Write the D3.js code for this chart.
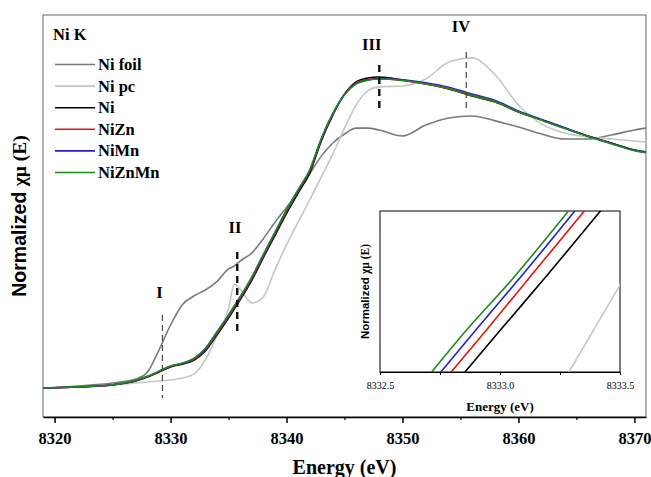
<!DOCTYPE html>
<html>
<head>
<meta charset="utf-8">
<script src="https://cdn.jsdelivr.net/npm/d3@7"></script>
<style>
  body { margin: 0; background: #fff; }
  text { font-family: "Liberation Serif", "Times New Roman", serif; font-weight: bold; }
</style>
</head>
<body>
<div class="chart"></div>
<script>
// energy grid (eV) shared by all main spectra
const energy = [8319, 8322, 8325, 8327, 8328, 8329, 8330, 8331, 8332, 8333, 8334, 8335, 8335.5, 8336, 8337, 8338, 8339, 8340,
  8341, 8342, 8343, 8344, 8345, 8346, 8347, 8348, 8350, 8352, 8354, 8356, 8358, 8360, 8362, 8364, 8366, 8368, 8370, 8371];

const niFoil = [-0.004, 0.004, 0.016, 0.032, 0.060, 0.149, 0.250, 0.331, 0.367, 0.391, 0.425, 0.476, 0.488, 0.508, 0.540, 0.598, 0.664, 0.724,
  0.786, 0.859, 0.931, 0.984, 1.020, 1.044, 1.044, 1.036, 1.012, 1.056, 1.085, 1.093, 1.073, 1.048, 1.020, 1.000, 1.000, 1.016, 1.036, 1.044];
const niPc = [-0.004, 0.000, 0.008, 0.016, 0.020, 0.024, 0.028, 0.036, 0.052, 0.109, 0.206, 0.315, 0.415, 0.395, 0.339, 0.363, 0.472, 0.573,
  0.665, 0.754, 0.847, 0.940, 1.044, 1.137, 1.194, 1.210, 1.214, 1.242, 1.310, 1.327, 1.258, 1.137, 1.060, 1.024, 1.008, 1.000, 0.992, 0.988];
const ni = [-0.004, 0.000, 0.008, 0.024, 0.040, 0.060, 0.081, 0.092, 0.108, 0.145, 0.210, 0.278, 0.315, 0.351, 0.430, 0.522, 0.610, 0.700,
  0.782, 0.863, 0.992, 1.097, 1.181, 1.230, 1.246, 1.250, 1.238, 1.222, 1.202, 1.173, 1.149, 1.109, 1.077, 1.044, 1.012, 0.984, 0.956, 0.948];
const niZn = [-0.004, 0.000, 0.008, 0.025, 0.041, 0.062, 0.083, 0.094, 0.111, 0.150, 0.216, 0.284, 0.321, 0.357, 0.436, 0.528, 0.617, 0.707,
  0.789, 0.870, 0.998, 1.101, 1.180, 1.226, 1.240, 1.244, 1.236, 1.222, 1.203, 1.175, 1.150, 1.110, 1.077, 1.043, 1.011, 0.983, 0.955, 0.947];
const niMn = [-0.004, 0.000, 0.009, 0.026, 0.042, 0.063, 0.084, 0.095, 0.113, 0.153, 0.220, 0.288, 0.325, 0.361, 0.440, 0.532, 0.621, 0.711,
  0.793, 0.873, 1.000, 1.102, 1.179, 1.224, 1.238, 1.243, 1.239, 1.227, 1.209, 1.181, 1.155, 1.113, 1.079, 1.045, 1.012, 0.983, 0.955, 0.947];
const niZnMn = [-0.004, 0.001, 0.009, 0.027, 0.043, 0.064, 0.085, 0.096, 0.115, 0.156, 0.223, 0.291, 0.328, 0.364, 0.443, 0.535, 0.624, 0.714,
  0.796, 0.876, 1.002, 1.103, 1.178, 1.222, 1.237, 1.242, 1.236, 1.223, 1.204, 1.176, 1.151, 1.110, 1.076, 1.042, 1.010, 0.981, 0.953, 0.945];

const seriesNames = ["Ni foil", "Ni pc", "Ni", "NiZn", "NiMn", "NiZnMn"];
const seriesColors = ["#7a7a7a", "#c6c6c6", "#000000", "#e3140f", "#2323c8", "#1d8a1d"];

// feature markers
const markNames = ["I", "II", "III", "IV"];
const markEnergy = [8329.3, 8335.75, 8348.0, 8355.5];
const markTop = [0.290, 0.544, 1.298, 1.351];
const markBottom = [-0.044, 0.218, 1.117, 1.117];
const markLabelE = [8329.05, 8335.55, 8347.35, 8355.05];
const markLabelV = [0.359, 0.621, 1.359, 1.431];

const xTicks = [8320, 8330, 8340, 8350, 8360, 8370];
const xMinor = [8325, 8335, 8345, 8355, 8365];

// inset (zoom on the edge)
const insetE = {
  "Ni pc": [8333.25, 8333.55],
  "Ni": [8332.82, 8333.00, 8333.20, 8333.45],
  "NiZn": [8332.76, 8332.94, 8333.14, 8333.39],
  "NiMn": [8332.72, 8332.90, 8333.10, 8333.35],
  "NiZnMn": [8332.68, 8332.85, 8333.05, 8333.32]
};
const insetV = {
  "Ni pc": [0.1162, 0.1467],
  "Ni": [0.1176, 0.1303, 0.1443, 0.1623],
  "NiZn": [0.1174, 0.1302, 0.1447, 0.1628],
  "NiMn": [0.1176, 0.1305, 0.1446, 0.1628],
  "NiZnMn": [0.1174, 0.1297, 0.1430, 0.1626]
};
const insetTicks = [8332.5, 8333.0, 8333.5];
const insetMinor = [8332.75, 8333.25];

const w = 651;
const h = 477;
const padL = 43, padR = 646, padT = 15, padB = 417;

const svg = d3.select(".chart").append("svg")
  .attr("width", w)
  .attr("height", h);

const xScale = d3.scaleLinear().domain([8319, 8371]).range([padL, padR]);
const yScale = d3.scaleLinear().domain([-0.121, 1.5]).range([padB, padT]);

svg.append("clipPath").attr("id", "mainClip")
  .append("rect").attr("x", padL).attr("y", padT).attr("width", padR - padL).attr("height", padB - padT);

// frame
svg.append("rect")
  .attr("x", padL).attr("y", padT)
  .attr("width", padR - padL).attr("height", padB - padT)
  .attr("fill", "none").attr("stroke", "#666").attr("stroke-width", 1);

const allSeries = [niFoil, niPc, ni, niZn, niMn, niZnMn];
const line = d3.line()
  .x((d, i) => xScale(energy[i]))
  .y((d) => yScale(d))
  .curve(d3.curveMonotoneX);

svg.append("g").attr("clip-path", "url(#mainClip)")
  .selectAll("path")
  .data(allSeries)
  .enter()
  .append("path")
  .attr("d", (d) => line(d))
  .attr("fill", "none")
  .attr("stroke", (d, i) => seriesColors[i])
  .attr("stroke-width", 1.6);

// x axis
const xAxis = d3.axisBottom(xScale).tickValues(xTicks).tickFormat(d3.format("d")).tickSize(6).tickSizeOuter(0).tickPadding(9);
const gx = svg.append("g").attr("transform", "translate(0," + padB + ")").call(xAxis);
gx.select(".domain").attr("stroke", "#000").attr("stroke-width", 1.5);
gx.selectAll("line").attr("stroke-width", 1.5);
gx.selectAll("text").attr("font-size", 16.5).attr("fill", "#000")
  .style("font-family", "'Liberation Serif', serif").style("font-weight", "bold");
const gxm = svg.append("g").attr("transform", "translate(0," + padB + ")")
  .call(d3.axisBottom(xScale).tickValues(xMinor).tickSize(3).tickSizeOuter(0).tickFormat(""));
gxm.select(".domain").remove();
gxm.selectAll("line").attr("stroke-width", 1.2);

svg.append("text")
  .attr("x", (padL + padR) / 2).attr("y", 474)
  .attr("text-anchor", "middle").attr("font-size", 20)
  .text("Energy (eV)");

const yLab = svg.append("text")
  .attr("transform", "translate(26," + ((padT + padB) / 2) + ") rotate(-90)")
  .attr("text-anchor", "middle").attr("font-size", 19.5);
yLab.append("tspan").style("font-family", "'Liberation Sans', Arial, sans-serif").text("Normalized ");
yLab.append("tspan").text("χμ (E)");

// markers
markNames.forEach((m, i) => {
  const thick = (m === "II" || m === "III");
  svg.append("line")
    .attr("x1", xScale(markEnergy[i])).attr("x2", xScale(markEnergy[i]))
    .attr("y1", yScale(markTop[i])).attr("y2", yScale(markBottom[i]))
    .attr("stroke", thick ? "#111" : "#444")
    .attr("stroke-width", thick ? 2.4 : 1.2)
    .attr("stroke-dasharray", thick ? "7,5" : "6,4");
  svg.append("text")
    .attr("x", xScale(markLabelE[i])).attr("y", yScale(markLabelV[i]))
    .attr("text-anchor", "middle").attr("font-size", 16.5)
    .text(m);
});

// legend
svg.append("text").attr("x", 53).attr("y", 40).attr("font-size", 16.5).text("Ni K");
seriesNames.forEach((s, i) => {
  const ly = 64.5 + i * 21.6;
  svg.append("line").attr("x1", 55).attr("x2", 95).attr("y1", ly).attr("y2", ly)
    .attr("stroke", seriesColors[i]).attr("stroke-width", 1.6);
  svg.append("text").attr("x", 98).attr("y", ly + 5.5).attr("font-size", 16.5).text(s);
});

// inset
const il = 380, ir = 620, it = 211, ib = 372;
const ix = d3.scaleLinear().domain([8332.5, 8333.5]).range([il, ir]);
const iy = d3.scaleLinear().domain([0.12, 0.16]).range([ib, it]);

svg.append("rect").attr("x", il).attr("y", it).attr("width", ir - il).attr("height", ib - it)
  .attr("fill", "#fff").attr("stroke", "#000").attr("stroke-width", 1);
svg.append("clipPath").attr("id", "insetClip")
  .append("rect").attr("x", il).attr("y", it).attr("width", ir - il).attr("height", ib - it);

const insetNames = ["Ni pc", "Ni", "NiZn", "NiMn", "NiZnMn"];
const iline = d3.line().x((d) => ix(d[0])).y((d) => iy(d[1])).curve(d3.curveMonotoneX);
svg.append("g").attr("clip-path", "url(#insetClip)")
  .selectAll("path")
  .data(insetNames)
  .enter()
  .append("path")
  .attr("d", (s) => iline(insetE[s].map((e, k) => [e, insetV[s][k]])))
  .attr("fill", "none")
  .attr("stroke", (s) => seriesColors[seriesNames.indexOf(s)])
  .attr("stroke-width", 1.6);

const gi = svg.append("g").attr("transform", "translate(0," + ib + ")")
  .call(d3.axisBottom(ix).tickValues(insetTicks).tickFormat(d3.format(".1f")).tickSize(3).tickSizeOuter(0).tickPadding(7));
gi.selectAll("text").attr("font-size", 10).attr("fill", "#000")
  .style("font-family", "'Liberation Serif', serif").style("font-weight", "normal");
svg.append("g").attr("transform", "translate(0," + ib + ")")
  .call(d3.axisBottom(ix).tickValues(insetMinor).tickSize(3).tickSizeOuter(0).tickFormat(""))
  .select(".domain").remove();

svg.append("text").attr("x", (il + ir) / 2).attr("y", 411)
  .attr("text-anchor", "middle").attr("font-size", 13).text("Energy (eV)");
const iyLab = svg.append("text")
  .attr("transform", "translate(369," + ((it + ib) / 2) + ") rotate(-90)")
  .attr("text-anchor", "middle").attr("font-size", 11.5);
iyLab.append("tspan").style("font-family", "'Liberation Sans', Arial, sans-serif").text("Normalized ");
iyLab.append("tspan").text("χμ (E)");
</script>
</body>
</html>
